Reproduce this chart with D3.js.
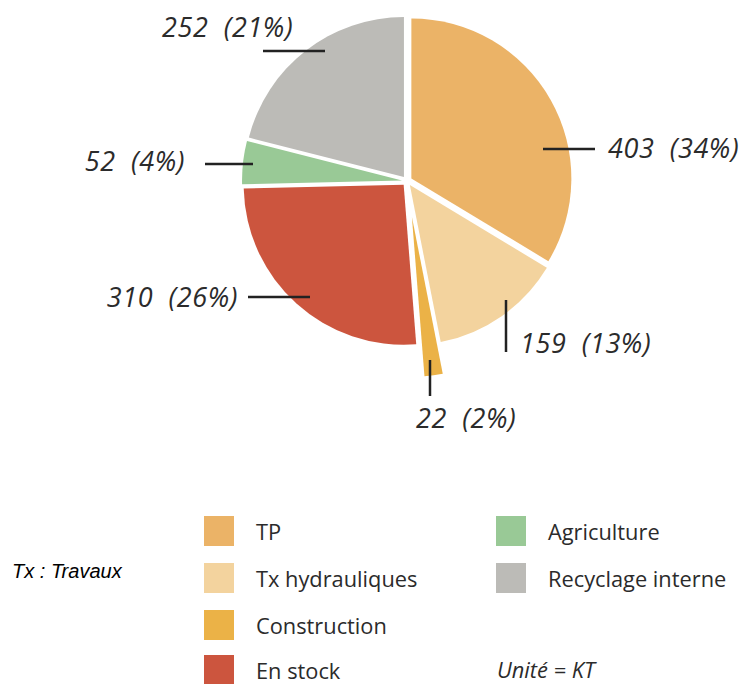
<!DOCTYPE html>
<html>
<head>
<meta charset="utf-8">
<script src="https://cdn.jsdelivr.net/npm/d3@7"></script>
<style>
  body { margin: 0; background: #fff; }
  svg { display: block; }
</style>
</head>
<body>
<div id="chart"></div>
<script>
// data (unit = KT)
var categories = ["TP", "Tx hydrauliques", "Construction", "En stock", "Agriculture", "Recyclage interne"];
var values = [403, 159, 22, 310, 52, 252];
var percents = [34, 13, 2, 26, 4, 21];
var colors = ["#ebb367", "#f3d39e", "#ebb247", "#cc553e", "#99c996", "#bcbbb7"];

const width = 747, height = 684;
const cx = 407, cy = 181, radius = 160;

// how far each slice is pulled out of the pie
const explode = [5, 5, 36, 5, 5, 5];

// leader lines + label anchors, relative to pie center
const labelLayout = [
  {line: [136, -32, 188, -32], tx: 201, ty: -23, anchor: "start"},
  {line: [99, 119, 99, 171], tx: 113, ty: 172, anchor: "start"},
  {line: [23, 179, 23, 215], tx: 9, ty: 247, anchor: "start"},
  {line: [-159, 116, -97, 116], tx: -169, ty: 126, anchor: "end"},
  {line: [-202, -17, -154, -17], tx: -222, ty: -10, anchor: "end"},
  {line: [-144, -130, -82, -130], tx: -245, ty: -144, anchor: "start"}
];

const svg = d3.select("#chart").append("svg")
  .attr("width", width)
  .attr("height", height);

const pie = d3.pie().sort(null).value(d => d.value);
const arc = d3.arc().innerRadius(0).outerRadius(radius);

const data = categories.map((c, i) => ({name: c, value: values[i], pct: percents[i], color: colors[i], i: i}));
const arcs = pie(data);

const g = svg.append("g").attr("transform", "translate(" + cx + "," + cy + ")");

g.selectAll("path")
  .data(arcs)
  .join("path")
  .attr("fill", d => d.data.color)
  .attr("d", arc)
  .attr("transform", d => {
    const a = (d.startAngle + d.endAngle) / 2;
    const off = explode[d.data.i];
    return "translate(" + (Math.sin(a) * off) + "," + (-Math.cos(a) * off) + ")";
  });

// leader lines
g.selectAll("line.leader")
  .data(arcs)
  .join("line")
  .attr("class", "leader")
  .attr("x1", d => labelLayout[d.index].line[0])
  .attr("y1", d => labelLayout[d.index].line[1])
  .attr("x2", d => labelLayout[d.index].line[2])
  .attr("y2", d => labelLayout[d.index].line[3])
  .attr("stroke", "#222")
  .attr("stroke-width", 2.5);

g.selectAll("text.val")
  .data(arcs)
  .join("text")
  .attr("class", "val")
  .attr("x", d => labelLayout[d.index].tx)
  .attr("y", d => labelLayout[d.index].ty)
  .attr("text-anchor", d => labelLayout[d.index].anchor)
  .attr("font-family", "'Open Sans', sans-serif")
  .attr("font-style", "italic")
  .attr("font-size", 27)
  .attr("letter-spacing", 0.6)
  .attr("fill", "#2b2b2b")
  .style("white-space", "pre")
  .text(d => d.data.value + "  (" + d.data.pct + "%)");

// legend, two columns
const legendPos = [
  {x: 204, y: 516}, {x: 204, y: 563}, {x: 204, y: 610}, {x: 204, y: 655},
  {x: 496, y: 516}, {x: 496, y: 563}
];

const legend = svg.append("g");
const item = legend.selectAll("g")
  .data(data)
  .join("g")
  .attr("transform", d => "translate(" + legendPos[d.i].x + "," + legendPos[d.i].y + ")");

item.append("rect")
  .attr("width", 30)
  .attr("height", 30)
  .attr("fill", d => d.color);

item.append("text")
  .attr("x", 52)
  .attr("y", 24)
  .attr("font-family", "'Open Sans', sans-serif")
  .attr("font-size", 21.8)
  .attr("fill", "#2b2b2b")
  .text(d => d.name);

svg.append("text")
  .attr("x", 497)
  .attr("y", 678)
  .attr("font-family", "'Open Sans', sans-serif")
  .attr("font-style", "italic")
  .attr("font-size", 21.8)
  .attr("fill", "#2b2b2b")
  .text("Unité = KT");

svg.append("text")
  .attr("x", 12)
  .attr("y", 578)
  .attr("font-family", "'Liberation Sans', Arial, sans-serif")
  .attr("font-style", "italic")
  .attr("font-size", 20)
  .attr("fill", "#000")
  .text("Tx : Travaux");
</script>
</body>
</html>
